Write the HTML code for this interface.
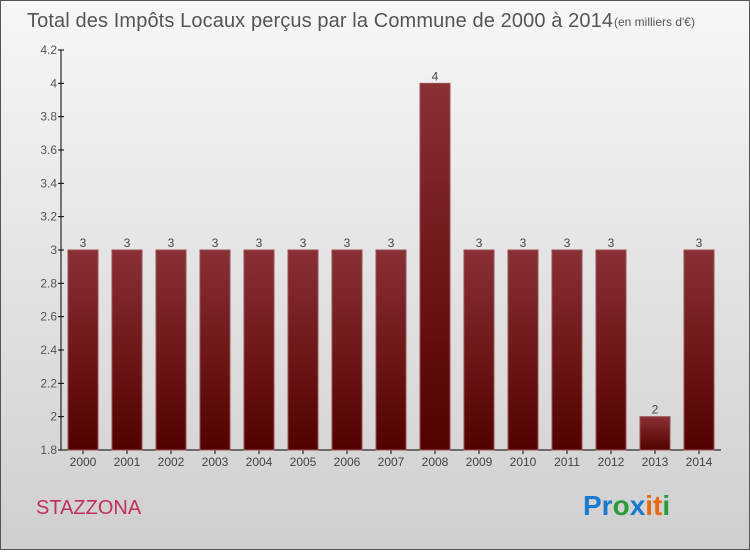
<!DOCTYPE html>
<html><head><meta charset="utf-8"><style>
body{margin:0;width:750px;height:550px;overflow:hidden;font-family:"Liberation Sans",sans-serif}
</style></head><body>
<svg width="750" height="550">
<defs>
<linearGradient id="bg" x1="0" y1="0" x2="0" y2="1"><stop offset="0" stop-color="#f7f7f7"/><stop offset="1" stop-color="#cfcfcf"/></linearGradient>
<linearGradient id="bar" x1="0" y1="0" x2="0" y2="1"><stop offset="0" stop-color="#8a3035"/><stop offset="1" stop-color="#520000"/></linearGradient>
</defs>
<rect x="0.5" y="0.5" width="749" height="549" fill="url(#bg)" stroke="#555"/>
<text x="27" y="27" font-size="20" fill="#555" textLength="586">Total des Impôts Locaux perçus par la Commune de 2000 à 2014</text>
<text x="614" y="26" font-size="12" fill="#555">(en milliers d'€)</text>
<g id="ax"></g><g id="bars"></g>
<text x="36" y="514" font-size="20" fill="#c0305a">STAZZONA</text>
<text x="583" y="515" font-size="28" font-weight="bold"><tspan fill="#1a7ad0">Pr</tspan><tspan fill="#2a9a3a">o</tspan><tspan fill="#1a7ad0">x</tspan><tspan fill="#e86a10">it</tspan><tspan fill="#2a9a3a">i</tspan></text>
</svg>
<script>
const years=["2000","2001","2002","2003","2004","2005","2006","2007","2008","2009","2010","2011","2012","2013","2014"];
const values=[3,3,3,3,3,3,3,3,4,3,3,3,3,2,3];
const ticks=[1.8,2,2.2,2.4,2.6,2.8,3,3.2,3.4,3.6,3.8,4,4.2];
const NS="http://www.w3.org/2000/svg";
const y=v=>450-(v-1.8)/2.4*400;
const x=i=>61+44*i;
function mk(t,a,p){const e=document.createElementNS(NS,t);for(const k in a)e.setAttribute(k,a[k]);p.appendChild(e);return e;}
const ax=document.getElementById('ax'),bars=document.getElementById('bars');
const yl=mk('line',{x1:61,y1:50,x2:61,y2:450,stroke:'#000'},ax);


const xl=mk('line',{x1:61,y1:450,x2:721,y2:450,stroke:'#000'},ax);


ticks.forEach(t=>{mk('line',{x1:58,x2:64,y1:y(t),y2:y(t),stroke:'#000'},ax);
const tx=mk('text',{x:57,y:y(t)+4,'font-size':12,'text-anchor':'end',fill:'#555'},ax);tx.textContent=String(t);

});
years.forEach((yr,i)=>{const v=values[i];
const r=mk('rect',{x:x(i)+7,y:y(v),width:30,height:450-y(v),fill:'url(#bar)',stroke:'#9a5055','stroke-width':1},bars);


const lb=mk('text',{x:x(i)+22,y:y(v)-3,'font-size':12,'text-anchor':'middle',fill:'#444'},bars);lb.textContent=String(v);


mk('line',{x1:x(i)+22,x2:x(i)+22,y1:450,y2:454,stroke:'#000'},ax);
const xt=mk('text',{x:x(i)+22,y:466,'font-size':12,'text-anchor':'middle',fill:'#444'},ax);xt.textContent=yr;

});
</script>
</body></html>
